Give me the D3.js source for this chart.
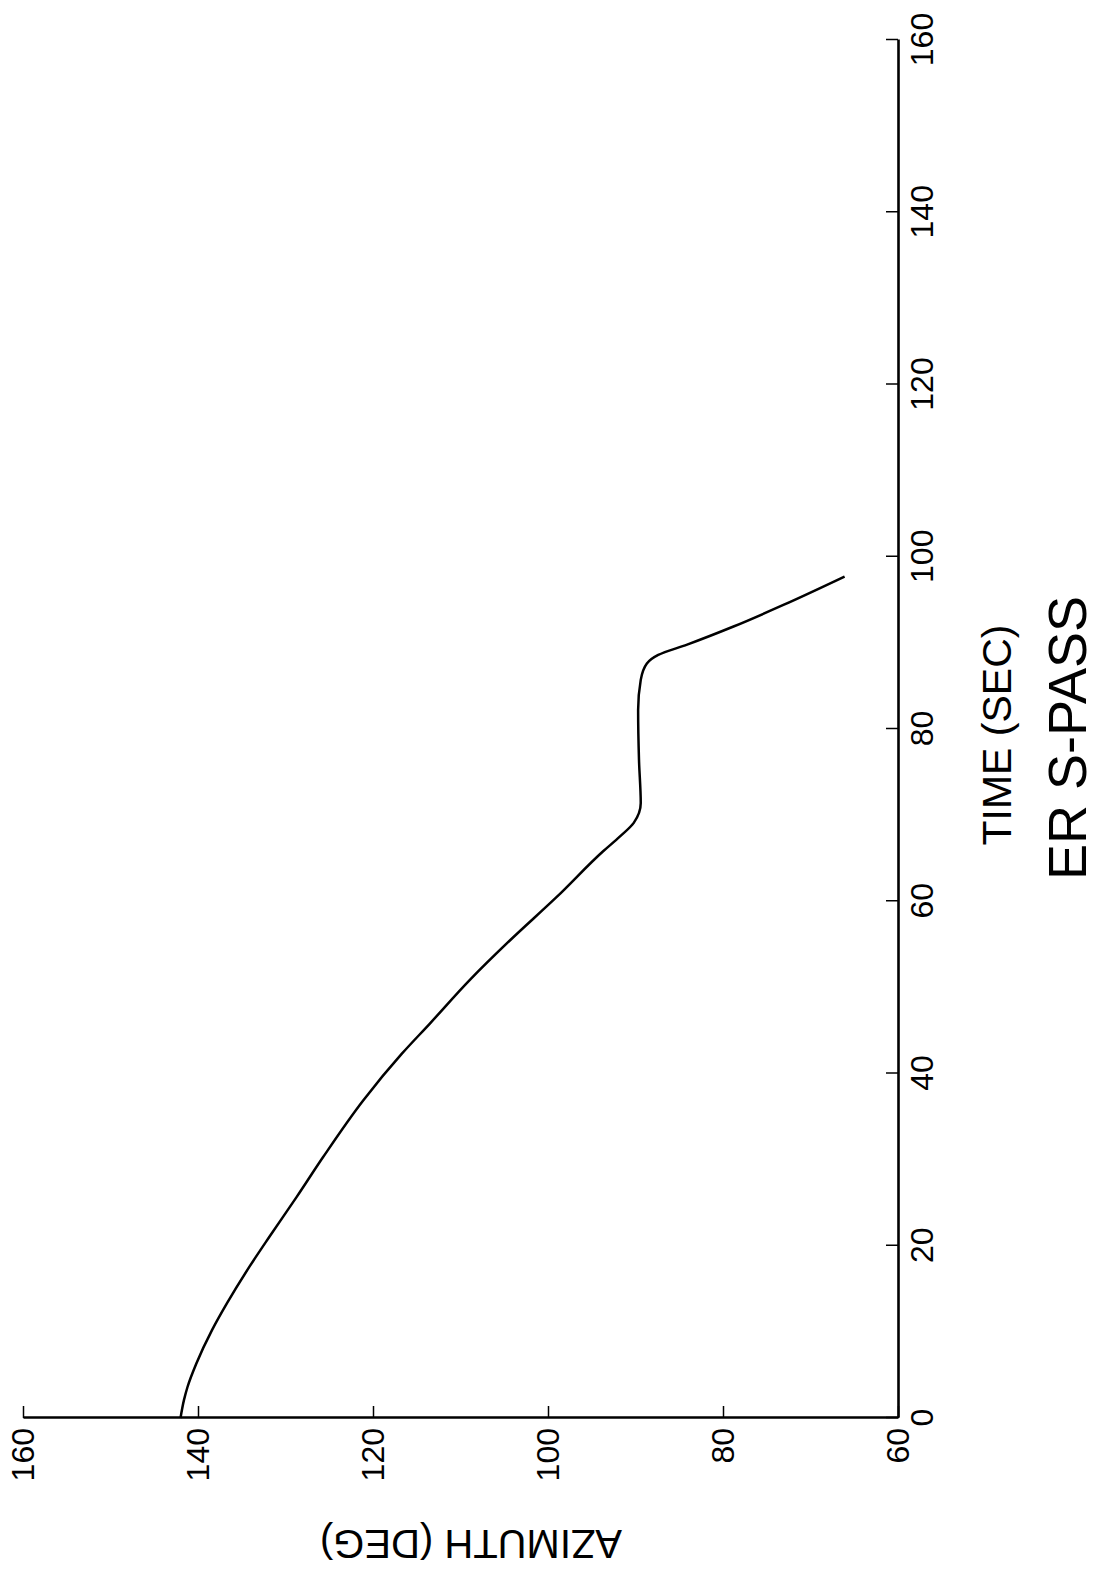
<!DOCTYPE html>
<html>
<head>
<meta charset="utf-8">
<script src="https://cdn.jsdelivr.net/npm/d3@7"></script>
<style>
  html, body { margin: 0; padding: 0; background: #fff; }
  svg { display: block; }
  text { font-family: "Liberation Sans", Arial, Helvetica, sans-serif; fill: #000; }
</style>
</head>
<body>
<script>
// Data
const timeSec = [0, 2.1, 3.6, 6.3, 10.2, 13.3, 17.6, 21.1, 25.7, 30.3, 36.9, 42.3, 45.8, 50.9, 55.5, 60.5, 65.8, 67.5, 69.1, 71.4, 76.4, 82.2, 85.7, 87.6, 88.6, 89.8, 91.9, 94.4, 97.7];
const azimuthDeg = [142.0, 141.6, 141.2, 140.2, 138.4, 136.7, 134.1, 131.8, 128.7, 125.7, 121.1, 116.7, 113.5, 108.9, 104.3, 99.0, 93.7, 91.8, 90.2, 89.4, 89.6, 89.7, 89.4, 88.7, 87.4, 84.1, 78.8, 73.1, 66.1];
const timeTicks = [0, 20, 40, 60, 80, 100, 120, 140, 160];
const azimuthTicks = [60, 80, 100, 120, 140, 160];
const xLabel = "TIME (SEC)";
const yLabel = "AZIMUTH (DEG)";
const title = "ER S-PASS";

const W = 1099, H = 1570;
const svg = d3.select("body").append("svg").attr("width", W).attr("height", H);
// whole page is rotated 90° counter-clockwise
const g = svg.append("g").attr("transform", `translate(0,${H}) rotate(-90)`);

const x = d3.scaleLinear().domain([0, 160]).range([152, 1530]);
const y = d3.scaleLinear().domain([60, 160]).range([898, 23]);

const xAxis = g.append("g").attr("transform", `translate(0,${y(60)})`)
  .call(d3.axisBottom(x).tickValues(timeTicks).tickFormat(d3.format("d"))
    .tickSizeInner(-12).tickSizeOuter(0).tickPadding(12));
const yAxis = g.append("g").attr("transform", `translate(${x(0)},0)`)
  .call(d3.axisLeft(y).tickValues(azimuthTicks).tickFormat(d3.format("d"))
    .tickSizeInner(-12).tickSizeOuter(0).tickPadding(10));

[xAxis, yAxis].forEach(a => {
  a.select(".domain").attr("stroke", "#000").attr("stroke-width", 2.6);
  a.selectAll(".tick line").attr("stroke", "#000").attr("stroke-width", 1.5);
  a.selectAll(".tick text").attr("font-size", 32).attr("fill", "#000")
    .attr("font-family", "'Liberation Sans', Arial, sans-serif");
});

const line = d3.line().x((d, i) => x(timeSec[i])).y((d, i) => y(azimuthDeg[i])).curve(d3.curveMonotoneX);
g.append("path").datum(azimuthDeg).attr("d", line)
  .attr("fill", "none").attr("stroke", "#000").attr("stroke-width", 2.5);

g.append("text").attr("x", 835).attr("y", 997).attr("dy", "0.35em")
  .attr("text-anchor", "middle").attr("font-size", 41).text(xLabel);
g.append("text").attr("x", 832).attr("y", 1067).attr("dy", "0.35em")
  .attr("text-anchor", "middle").attr("font-size", 54).text(title);
g.append("text").attr("transform", "translate(26,471) rotate(-90)").attr("dy", "0.35em")
  .attr("text-anchor", "middle").attr("font-size", 40).text(yLabel);
</script>
</body>
</html>
